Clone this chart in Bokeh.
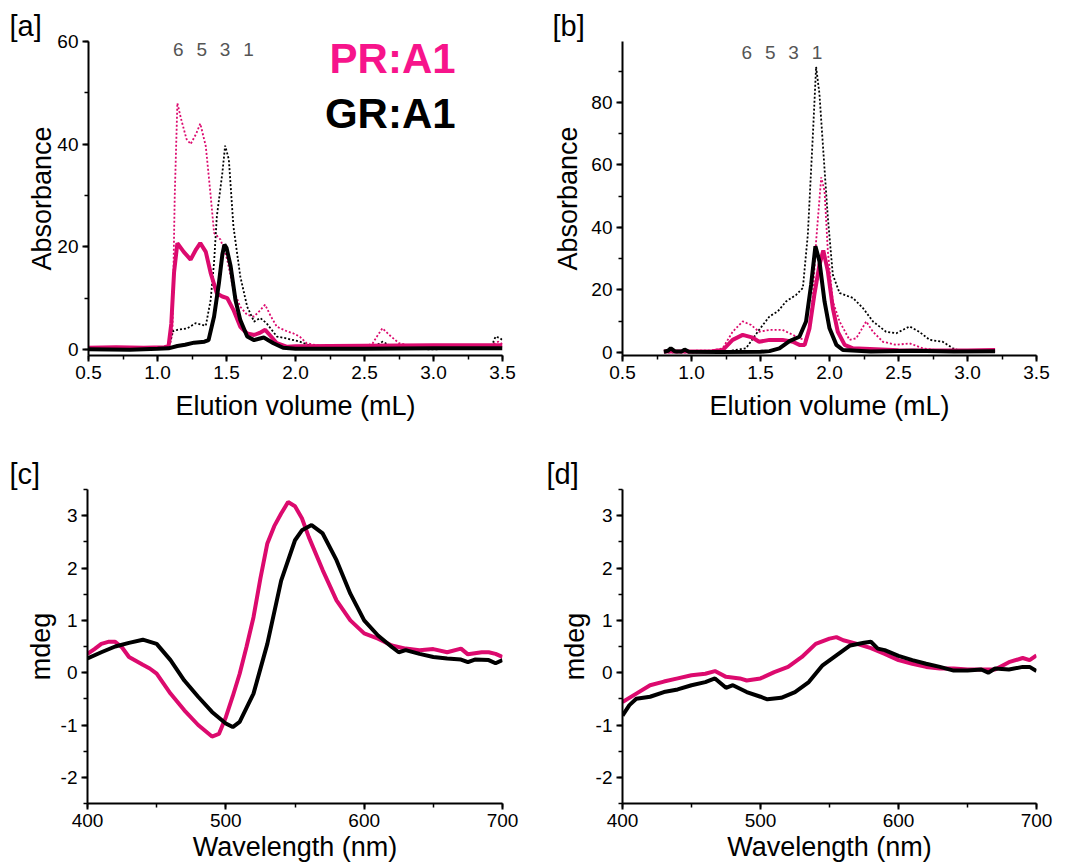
from bokeh.plotting import figure
from bokeh.layouts import column, row
from bokeh.models import Range1d, SingleIntervalTicker, Label, PrintfTickFormatter
from bokeh.embed import file_html
from bokeh.resources import INLINE

FONT = "Liberation Sans"
PINK_LINE = "#DC0A6E"
PINK_TEXT = "#F7148B"

# ---------------- data: panel [a] (elution) ----------------
a_pr_thick_x = [0.50, 0.70, 0.90, 1.05, 1.08, 1.10, 1.12, 1.144, 1.19, 1.24, 1.28, 1.31, 1.35, 1.385, 1.43, 1.47,
                1.505, 1.55, 1.60, 1.65, 1.70, 1.74, 1.78, 1.82, 1.865, 1.94, 2.0, 2.5, 3.0, 3.5]
a_pr_thick_y = [0.3, 0.4, 0.3, 0.4, 0.6, 5, 15, 20.7, 19, 17.5, 19.5, 20.7, 19, 14.9, 10.9, 10.3,
                10, 7.7, 4.4, 3.1, 2.8, 3.2, 3.8, 2.6, 1.2, 0.5, 0.6, 0.7, 0.8, 0.8]
a_gr_thick_x = [0.5, 0.8, 1.0, 1.08, 1.144, 1.2, 1.265, 1.34, 1.37, 1.41, 1.445, 1.47, 1.485, 1.50, 1.53, 1.565,
                1.60, 1.65, 1.70, 1.77, 1.84, 1.91, 2.0, 2.5, 3.0, 3.5]
a_gr_thick_y = [0.0, -0.1, 0.1, 0.2, 0.65, 0.9, 1.3, 1.5, 1.8, 6.4, 12.9, 18.5, 20.4, 19.8, 16.2, 9.6,
                5.7, 2.5, 1.8, 2.3, 1.2, 0.3, 0.1, 0.1, 0.2, 0.2]
a_pr_dot_x = [0.5, 0.8, 1.05, 1.09, 1.108, 1.125, 1.144, 1.17, 1.21, 1.24, 1.28, 1.31, 1.35, 1.385, 1.41, 1.457,
              1.505, 1.55, 1.60, 1.65, 1.70, 1.74, 1.78, 1.82, 1.865, 1.94, 1.985, 2.03, 2.08, 2.18, 2.5, 2.56,
              2.59, 2.63, 2.68, 2.75, 2.83, 3.0, 3.4, 3.47, 3.5]
a_pr_dot_y = [0.3, 0.4, 0.4, 1.0, 3, 30, 48, 45, 41, 40, 42, 44, 39.6, 30, 22.7, 21.4,
              17.5, 11.6, 8.3, 6.7, 6.4, 7.5, 8.7, 6.5, 4.4, 3.5, 3.1, 2.5, 1.2, 0.65, 0.5, 1.2,
              2.5, 4.1, 2.8, 1.2, 0.7, 0.5, 0.6, 1.5, 1.0]
a_gr_dot_x = [0.5, 0.8, 1.05, 1.09, 1.108, 1.144, 1.216, 1.276, 1.35, 1.385, 1.41, 1.43, 1.47, 1.49, 1.517, 1.55,
              1.60, 1.65, 1.70, 1.745, 1.79, 1.865, 1.94, 2.03, 2.13, 2.3, 2.55, 2.63, 2.68, 2.75, 3.0, 3.4,
              3.43, 3.45, 3.48, 3.5]
a_gr_dot_y = [0.0, 0.0, 0.1, 1.0, 3.5, 3.8, 4.1, 5.1, 4.6, 9.6, 17, 25.9, 34.4, 39.7, 37, 24,
              14.2, 8.3, 5.4, 6.1, 5.1, 2.5, 2.1, 1.5, 0.5, 0.2, 0.2, 1.5, 0.8, 0.1, 0.0, 0.3,
              1.2, 2.5, 2.2, 1.8]

# ---------------- data: panel [b] (elution) ----------------
b_gr_dot_x = [0.8, 1.0, 1.25, 1.395, 1.49, 1.565, 1.625, 1.685, 1.758, 1.807, 1.843, 1.88, 1.903, 1.927, 1.95,
              1.988, 2.024, 2.073, 2.17, 2.242, 2.315, 2.41, 2.484, 2.58, 2.65, 2.726, 2.82, 2.895, 2.968, 3.2]
b_gr_dot_y = [0.0, 0.0, 0.3, 1.3, 7.2, 11.5, 13.1, 16.3, 18.4, 20.6, 37.7, 70, 91.4, 82.8, 67.8,
              43.1, 24.9, 19, 17.4, 14.2, 9.9, 6.6, 6.1, 8.3, 6.6, 4.0, 3.4, 1.3, 0.2, 0.3]
b_pr_dot_x = [0.8, 1.0, 1.15, 1.226, 1.298, 1.371, 1.431, 1.49, 1.565, 1.66, 1.734, 1.782, 1.83, 1.855, 1.88,
              1.903, 1.94, 1.964, 1.988, 2.024, 2.073, 2.145, 2.194, 2.266, 2.315, 2.387, 2.484, 2.58, 2.677,
              2.774, 3.0, 3.2]
b_pr_dot_y = [0.5, 0.5, 0.6, 1.3, 6.6, 9.9, 8.8, 6.6, 7.2, 7.2, 5.6, 4.5, 4.0, 8, 18.4,
              35.6, 56, 51.7, 32.4, 16.3, 9.9, 4.0, 4.5, 9.9, 6.6, 3.4, 2.4, 2.9, 1.3,
              0.75, 0.5, 0.5]
b_pr_thick_x = [0.8, 1.0, 1.15, 1.226, 1.298, 1.371, 1.444, 1.49, 1.565, 1.66, 1.734, 1.782, 1.82, 1.855, 1.89,
                1.927, 1.955, 1.988, 2.024, 2.06, 2.11, 2.17, 2.5, 3.0, 3.2]
b_pr_thick_y = [0.3, 0.3, 0.4, 0.75, 4.0, 5.6, 4.7, 3.4, 4.0, 4.0, 3.4, 2.4, 2.4, 7.7, 18.4,
                28, 32.6, 26, 14.2, 6.6, 2.4, 1.3, 0.7, 0.6, 0.75]
b_gr_thick_x = [0.8, 0.83, 0.85, 0.88, 0.93, 0.95, 0.98, 1.2, 1.5, 1.565, 1.637, 1.71, 1.782, 1.83, 1.867,
                1.898, 1.927, 1.964, 2.0, 2.05, 2.097, 2.3, 2.6, 2.9, 3.2]
b_gr_thick_y = [0.2, 0.5, 1.3, 0.3, 0.3, 0.9, 0.2, 0.1, 0.2, 0.4, 1.3, 3.6, 5.0, 9.9, 21.7,
                34, 29.2, 16.3, 7.7, 2.4, 0.75, 0.3, 0.5, 0.3, 0.4]

# oligomer markers
marker_labels = ["6", "5", "3", "1"]
a_marker_x = [1.15, 1.32, 1.49, 1.66]
b_marker_x = [1.40, 1.57, 1.74, 1.91]

# ---------------- data: panel [c] (CD) ----------------
c_pr_x = [400, 405, 410, 415, 420, 425, 430, 440, 445, 450, 455, 460, 470, 480, 490, 495, 500, 505, 510, 515,
          520, 525, 530, 535, 540, 545, 550, 555, 560, 570, 580, 590, 600, 610, 620, 630, 640, 650, 660, 670,
          675, 680, 685, 690, 695, 700]
c_pr_y = [0.36, 0.45, 0.55, 0.59, 0.59, 0.48, 0.3, 0.15, 0.08, -0.02, -0.21, -0.4, -0.72, -1.0, -1.22, -1.17,
          -0.85, -0.45, -0.02, 0.5, 1.06, 1.8, 2.47, 2.8, 3.04, 3.26, 3.18, 2.95, 2.59, 1.96, 1.38, 1.0, 0.75,
          0.65, 0.52, 0.46, 0.43, 0.45, 0.39, 0.46, 0.35, 0.37, 0.39, 0.39, 0.36, 0.3]
c_gr_x = [400, 410, 420, 430, 440, 450, 460, 470, 480, 490, 500, 505, 510, 520, 530, 540, 550, 555, 562, 570,
          580, 590, 600, 610, 620, 625, 630, 640, 650, 660, 670, 675, 680, 690, 695, 700]
c_gr_y = [0.27, 0.39, 0.5, 0.57, 0.63, 0.55, 0.24, -0.15, -0.46, -0.75, -0.97, -1.04, -0.94, -0.4, 0.55, 1.76,
          2.53, 2.72, 2.82, 2.66, 2.15, 1.51, 1.0, 0.71, 0.49, 0.39, 0.43, 0.36, 0.3, 0.27, 0.25, 0.2, 0.25,
          0.24, 0.18, 0.24]

# ---------------- data: panel [d] (CD) ----------------
d_pr_x = [400, 410, 420, 430, 440, 450, 460, 467, 475, 485, 490, 500, 510, 520, 530, 540, 550, 555, 560, 570,
          580, 590, 600, 610, 620, 630, 640, 650, 660, 670, 680, 690, 695, 700]
d_pr_y = [-0.56, -0.4, -0.24, -0.17, -0.11, -0.05, -0.02, 0.03, -0.08, -0.11, -0.15, -0.11, 0.01, 0.11, 0.3,
          0.55, 0.65, 0.68, 0.62, 0.55, 0.47, 0.36, 0.24, 0.17, 0.11, 0.08, 0.08, 0.06, 0.06, 0.06, 0.2, 0.28,
          0.24, 0.33]
d_gr_x = [400, 405, 410, 420, 430, 440, 450, 460, 467, 475, 480, 490, 500, 505, 515, 525, 535, 545, 555, 565,
          575, 580, 585, 590, 600, 610, 620, 630, 640, 650, 660, 665, 670, 680, 690, 695, 700]
d_gr_y = [-0.82, -0.62, -0.5, -0.46, -0.37, -0.32, -0.24, -0.18, -0.11, -0.29, -0.24, -0.37, -0.46, -0.51,
          -0.48, -0.37, -0.18, 0.14, 0.33, 0.52, 0.57, 0.59, 0.46, 0.43, 0.32, 0.24, 0.17, 0.11, 0.04, 0.04,
          0.06, 0.0, 0.08, 0.06, 0.11, 0.11, 0.03]

legend_labels = ["PR:A1", "GR:A1"]
panel_names = ["[a]", "[b]", "[c]", "[d]"]


def make_fig(xr, yr, xint, yint, width, height, bl, br, bt, bb, xlabel, ylabel,
             title, title_offset, ylab_standoff=0, xlab_standoff=2, xfmt="%d"):
    p = figure(width=width, height=height, x_range=Range1d(*xr), y_range=Range1d(*yr),
               output_backend="svg", toolbar_location=None,
               min_border_left=bl, min_border_right=br, min_border_top=bt, min_border_bottom=bb,
               background_fill_color="white", border_fill_color="white", title=title)
    p.outline_line_color = None
    p.grid.visible = False
    p.title.align = "left"
    p.title.offset = title_offset
    p.title.standoff = 0
    p.title.text_font = FONT
    p.title.text_font_size = "29px"
    p.title.text_font_style = "normal"
    p.title.text_color = "black"
    p.xaxis.ticker = SingleIntervalTicker(interval=xint, num_minor_ticks=2)
    p.yaxis.ticker = SingleIntervalTicker(interval=yint, num_minor_ticks=2)
    p.xaxis.formatter = PrintfTickFormatter(format=xfmt)
    p.yaxis.formatter = PrintfTickFormatter(format="%d")
    for ax in (p.xaxis[0], p.yaxis[0]):
        ax.axis_line_width = 2
        ax.axis_line_color = "black"
        ax.major_tick_line_width = 2
        ax.minor_tick_line_width = 1.5
        ax.major_tick_out = 6
        ax.major_tick_in = 0
        ax.minor_tick_out = 4
        ax.minor_tick_in = 0
        ax.major_label_text_font = FONT
        ax.major_label_text_font_size = "19px"
        ax.major_label_text_color = "black"
        ax.axis_label_text_font = FONT
        ax.axis_label_text_font_size = "27px"
        ax.axis_label_text_font_style = "normal"
        ax.axis_label_text_color = "black"
    p.xaxis.axis_label = xlabel
    p.yaxis.axis_label = ylabel
    p.xaxis.major_label_standoff = 4
    p.yaxis.major_label_standoff = 4
    p.yaxis.axis_label_standoff = ylab_standoff
    p.xaxis.axis_label_standoff = xlab_standoff
    return p


# ---------- [a] ----------
pa = make_fig((0.5, 3.5), (-1.2, 60.0), 0.5, 20, 530, 430, 88, 28, 41, 75,
              "Elution volume (mL)", "Absorbance", panel_names[0], -79,
              ylab_standoff=-3, xlab_standoff=9, xfmt="%.1f")
pa.line(a_pr_dot_x, a_pr_dot_y, line_color=PINK_LINE, line_width=1.8, line_dash="2 2")
pa.line(a_gr_dot_x, a_gr_dot_y, line_color="black", line_width=1.8, line_dash="2 2")
pa.line(a_pr_thick_x, a_pr_thick_y, line_color=PINK_LINE, line_width=4)
pa.line(a_gr_thick_x, a_gr_thick_y, line_color="black", line_width=4)
for lab, xv in zip(marker_labels, a_marker_x):
    pa.add_layout(Label(x=xv, y=58.4, text=lab, text_font=FONT, text_font_size="19px",
                        text_color="#555555", text_align="center", text_baseline="middle"))
pa.add_layout(Label(x=3.16, y=56.7, text=legend_labels[0], text_font=FONT, text_font_size="42px",
                    text_font_style="bold", text_color=PINK_TEXT, text_align="right", text_baseline="middle"))
pa.add_layout(Label(x=3.16, y=46.0, text=legend_labels[1], text_font=FONT, text_font_size="42px",
                    text_font_style="bold", text_color="black", text_align="right", text_baseline="middle"))

# ---------- [b] ----------
pb = make_fig((0.5, 3.5), (-1.0, 99.5), 0.5, 20, 542, 430, 92, 36, 41, 75,
              "Elution volume (mL)", "Absorbance", panel_names[1], -70,
              ylab_standoff=5, xlab_standoff=9, xfmt="%.1f")
pb.line(b_gr_dot_x, b_gr_dot_y, line_color="black", line_width=1.8, line_dash="2 2")
pb.line(b_pr_dot_x, b_pr_dot_y, line_color=PINK_LINE, line_width=1.8, line_dash="2 2")
pb.line(b_pr_thick_x, b_pr_thick_y, line_color=PINK_LINE, line_width=4)
pb.line(b_gr_thick_x, b_gr_thick_y, line_color="black", line_width=4)
for lab, xv in zip(marker_labels, b_marker_x):
    pb.add_layout(Label(x=xv, y=96.0, text=lab, text_font=FONT, text_font_size="19px",
                        text_color="#555555", text_align="center", text_baseline="middle"))

# ---------- [c] ----------
pc = make_fig((400, 700), (-2.5, 3.5), 100, 1, 530, 436, 87, 28, 59, 63,
              "Wavelength (nm)", "mdeg", panel_names[2], -78, ylab_standoff=2, xlab_standoff=2)
pc.line(c_pr_x, c_pr_y, line_color=PINK_LINE, line_width=4)
pc.line(c_gr_x, c_gr_y, line_color="black", line_width=4)

# ---------- [d] ----------
pd_ = make_fig((400, 700), (-2.5, 3.5), 100, 1, 542, 436, 92, 36, 58, 63,
               "Wavelength (nm)", "mdeg", panel_names[3], -76, ylab_standoff=3, xlab_standoff=2)
pd_.line(d_pr_x, d_pr_y, line_color=PINK_LINE, line_width=4)
pd_.line(d_gr_x, d_gr_y, line_color="black", line_width=4)

layout = column(row(pa, pb), row(pc, pd_))
open("out.html", "w").write(file_html(layout, INLINE))
